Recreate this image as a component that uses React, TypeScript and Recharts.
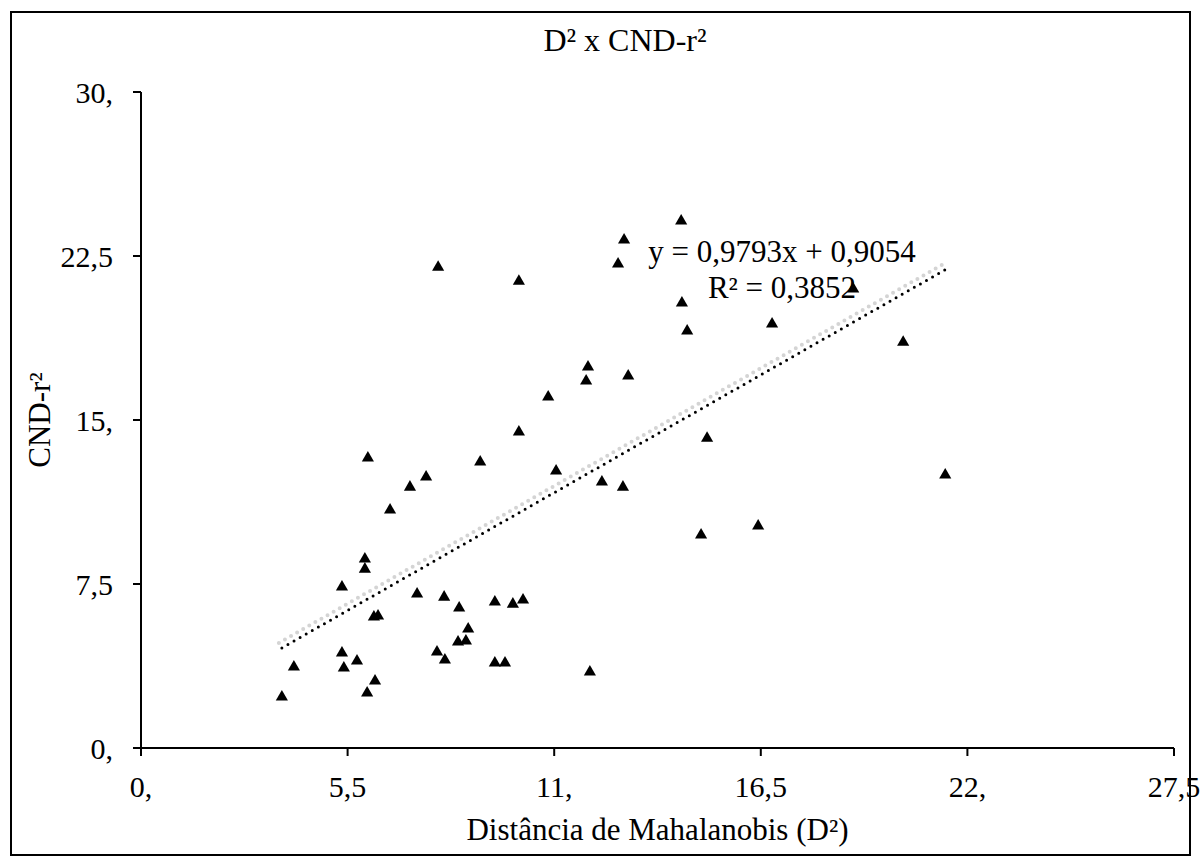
import React from 'react';
import {
  ScatterChart,
  Scatter,
  XAxis,
  YAxis,
  ZAxis,
  ReferenceLine,
} from 'recharts';

// Distância de Mahalanobis (D²)
const dist = [
  3.75, 4.07, 5.35, 5.35, 5.4, 5.75, 5.96, 5.96, 6.04, 6.02, 6.23, 6.2, 6.31,
  6.63, 7.16, 7.35, 7.59, 7.91, 7.88, 8.07, 8.09, 8.44, 8.65, 8.47, 8.71, 9.03,
  9.42, 9.42, 9.69, 9.9, 10.06, 10.06, 10.17, 10.84, 11.05, 11.85, 11.9, 11.95,
  12.27, 12.7, 12.86, 12.83, 12.97, 14.38, 14.4, 14.54, 14.91, 15.07, 16.43,
  16.8, 18.96, 20.29, 21.41,
];
// CND-r²
const cnd = [
  2.33, 3.7, 7.36, 4.34, 3.66, 3.98, 8.64, 8.18, 13.26, 2.51, 3.06, 5.99, 6.04,
  10.88, 11.93, 7.04, 12.39, 21.99, 4.39, 6.9, 4.02, 4.85, 4.89, 6.4, 5.44,
  13.08, 6.68, 3.89, 3.89, 6.58, 14.45, 21.35, 6.77, 16.05, 12.67, 16.78, 17.42,
  3.48, 12.16, 22.13, 23.23, 11.93, 17.01, 24.1, 20.35, 19.07, 9.74, 14.17,
  10.15, 19.39, 20.99, 18.56, 12.48,
];

const xTicks = [0, 5.5, 11, 16.5, 22, 27.5];
const xTickLabels = ['0,', '5,5', '11,', '16,5', '22,', '27,5'];
const yTicks = [0, 7.5, 15, 22.5, 30];
const yTickLabels = ['0,', '7,5', '15,', '22,5', '30,'];

// linear trend (Excel)
const slope = 0.9793;
const intercept = 0.9054;
const r2 = '0,3852';

const points = dist.map((x, i) => ({ x, y: cnd[i] }));
const xMin = Math.min(...dist);
const xMax = Math.max(...dist);
const trend = [
  { x: xMin, y: slope * xMin + intercept },
  { x: xMax, y: slope * xMax + intercept },
];

const FONT = '"Liberation Serif", "Times New Roman", serif';

const TrendShape = (props: any) => {
  const { x1, y1, x2, y2 } = props;
  return (
    <g>
      <line
        x1={x1 - 3}
        y1={y1 - 5}
        x2={x2 - 3}
        y2={y2 - 5}
        stroke="#d4d4d4"
        strokeWidth={4}
        strokeDasharray="0 7"
        strokeLinecap="round"
      />
      <line
        x1={x1}
        y1={y1}
        x2={x2}
        y2={y2}
        stroke="#000"
        strokeWidth={3}
        strokeDasharray="0 7"
        strokeLinecap="round"
      />
    </g>
  );
};

const XLabel = (props: any) => {
  const { viewBox } = props;
  return (
    <text
      x={viewBox.x + viewBox.width / 2}
      y={viewBox.y + 92}
      textAnchor="middle"
      fontFamily={FONT}
      fontSize={31}
      fill="#000"
    >
      Distância de Mahalanobis (D²)
    </text>
  );
};

const YLabel = (props: any) => {
  const { viewBox } = props;
  const cx = 50;
  const cy = viewBox.y + viewBox.height / 2;
  return (
    <text
      x={cx}
      y={cy}
      transform={`rotate(-90 ${cx} ${cy})`}
      textAnchor="middle"
      fontFamily={FONT}
      fontSize={31}
      fill="#000"
    >
      CND-r²
    </text>
  );
};

export default function App() {
  return (
    <div style={{ position: 'absolute', left: 0, top: 0, width: 1203, height: 867, background: '#fff' }}>
      <div
        style={{
          position: 'absolute',
          left: 10,
          top: 11,
          width: 1181,
          height: 845,
          border: '2px solid #000',
          boxSizing: 'border-box',
        }}
      />
      <div
        style={{
          position: 'absolute',
          left: 425,
          width: 400,
          top: 20,
          textAlign: 'center',
          fontFamily: FONT,
          fontSize: 32,
          lineHeight: '40px',
        }}
      >
        D² x CND-r²
      </div>
      <div
        style={{
          position: 'absolute',
          left: 632,
          width: 300,
          top: 234,
          textAlign: 'center',
          fontFamily: FONT,
          fontSize: 31,
          lineHeight: '36px',
          zIndex: 2,
        }}
      >
        <div>y = {String(slope).replace('.', ',')}x + {String(intercept).replace('.', ',')}</div>
        <div>R² = {r2}</div>
      </div>
      <div style={{ position: 'absolute', left: 0, top: 0 }}>
        <ScatterChart
          width={1203}
          height={867}
          margin={{ top: 92, right: 29, left: 0, bottom: 0 }}
        >
          <XAxis
            type="number"
            dataKey="x"
            domain={[0, 27.5]}
            ticks={xTicks}
            tickFormatter={(v: number) => xTickLabels[xTicks.indexOf(v)]}
            interval={0}
            height={119}
            axisLine={{ stroke: '#000', strokeWidth: 2 }}
            tickLine={{ stroke: '#000', strokeWidth: 2 }}
            tickSize={8}
            tickMargin={20}
            tick={{ fill: '#000', fontSize: 30, fontFamily: FONT }}
            label={<XLabel />}
          />
          <YAxis
            type="number"
            dataKey="y"
            domain={[0, 30]}
            ticks={yTicks}
            tickFormatter={(v: number) => yTickLabels[yTicks.indexOf(v)]}
            interval={0}
            width={141}
            axisLine={{ stroke: '#000', strokeWidth: 2 }}
            tickLine={{ stroke: '#000', strokeWidth: 2 }}
            tickSize={8}
            tickMargin={20}
            tick={{ fill: '#000', fontSize: 30, fontFamily: FONT }}
            label={<YLabel />}
          />
          <ZAxis range={[82, 82]} />
          <ReferenceLine
            segment={trend}
            shape={TrendShape}
            ifOverflow="visible"
          />
          <Scatter
            data={points}
            shape="triangle"
            fill="#000"
            isAnimationActive={false}
          />
        </ScatterChart>
      </div>
    </div>
  );
}
